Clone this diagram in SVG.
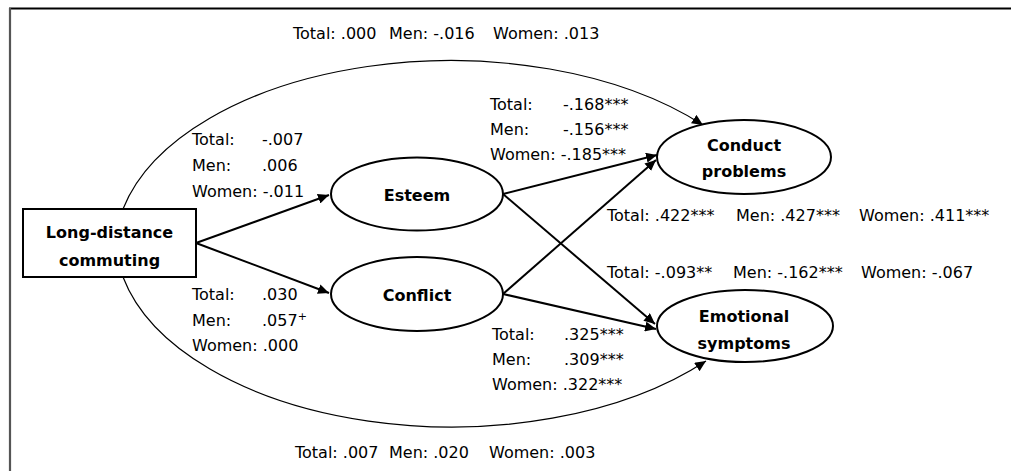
<svg xmlns="http://www.w3.org/2000/svg" width="1011" height="471" viewBox="0 0 1011 471">
<style>
.node{fill:#fff;stroke:#000;stroke-width:2}
.nt{font-family:"DejaVu Sans","Liberation Sans",sans-serif;font-weight:bold;font-size:16px;fill:#000;text-anchor:middle}
.lb{font-family:"DejaVu Sans","Liberation Sans",sans-serif;font-size:16px;fill:#000}
.ed{fill:none;stroke:#000;stroke-width:2}
.arc{fill:none;stroke:#000;stroke-width:1.2}
</style>
<defs>
<marker id="ah" markerUnits="userSpaceOnUse" markerWidth="12" markerHeight="10" refX="11" refY="5" orient="auto">
<path d="M0,0 L11,5 L0,10 z" fill="#000"/>
</marker>
</defs>
<rect width="1011" height="471" fill="#fff"/>
<g id="frame">
<line x1="9" y1="8.5" x2="1011" y2="8.5" stroke="#000" stroke-width="2"/>
<line x1="10" y1="8" x2="10" y2="471" stroke="#555" stroke-width="2.2"/>
</g>
<g id="connectors">
<path class="arc" d="M123,209 A336,190 0 0 1 703,125" marker-end="url(#ah)"/>
<path class="arc" d="M123,277 A336,190 0 0 0 706,361" marker-end="url(#ah)"/>
<line class="ed" x1="196" y1="243" x2="329" y2="195" marker-end="url(#ah)"/>
<line class="ed" x1="196" y1="243" x2="329" y2="293" marker-end="url(#ah)"/>
<line class="ed" x1="503" y1="194" x2="657" y2="155" marker-end="url(#ah)"/>
<line class="ed" x1="503" y1="194" x2="655" y2="324" marker-end="url(#ah)"/>
<line class="ed" x1="503" y1="294" x2="656" y2="160" marker-end="url(#ah)"/>
<line class="ed" x1="503" y1="294" x2="656" y2="329" marker-end="url(#ah)"/>
</g>
<g id="long-distance">
<rect class="node" x="23" y="209" width="173" height="68"/>
<text class="nt" x="109.5" y="238">Long-distance</text>
<text class="nt" x="109.5" y="266">commuting</text>
</g>
<g id="esteem">
<ellipse class="node" cx="417" cy="194" rx="86" ry="36.5"/>
<text class="nt" x="417" y="201">Esteem</text>
</g>
<g id="conflict">
<ellipse class="node" cx="417" cy="294" rx="86" ry="37"/>
<text class="nt" x="417" y="301">Conflict</text>
</g>
<g id="conduct">
<ellipse class="node" cx="744" cy="157" rx="87" ry="37"/>
<text class="nt" x="744" y="151">Conduct</text>
<text class="nt" x="744" y="177">problems</text>
</g>
<g id="emotional">
<ellipse class="node" cx="745" cy="326" rx="88" ry="36"/>
<text class="nt" x="744" y="322">Emotional</text>
<text class="nt" x="744" y="349">symptoms</text>
</g>
<g id="labels">
<text class="lb" y="39"><tspan x="293">Total: .000</tspan><tspan x="389">Men: -.016</tspan><tspan x="493">Women: .013</tspan></text>
<text class="lb" y="458"><tspan x="295">Total: .007</tspan><tspan x="389">Men: .020</tspan><tspan x="489">Women: .003</tspan></text>
<text class="lb" y="145"><tspan x="192">Total:</tspan><tspan x="262">-.007</tspan></text>
<text class="lb" y="171"><tspan x="192">Men:</tspan><tspan x="262">.006</tspan></text>
<text class="lb" x="192" y="197">Women: -.011</text>
<text class="lb" y="300"><tspan x="192">Total:</tspan><tspan x="262">.030</tspan></text>
<text class="lb" y="326"><tspan x="192">Men:</tspan><tspan x="262">.057</tspan><tspan font-size="11" dy="-6">+</tspan></text>
<text class="lb" x="192" y="351">Women: .000</text>
<text class="lb" y="110"><tspan x="490">Total:</tspan><tspan x="563">-.168***</tspan></text>
<text class="lb" y="135"><tspan x="490">Men:</tspan><tspan x="563">-.156***</tspan></text>
<text class="lb" x="490" y="160">Women: -.185***</text>
<text class="lb" y="340"><tspan x="492">Total:</tspan><tspan x="564">.325***</tspan></text>
<text class="lb" y="365"><tspan x="492">Men:</tspan><tspan x="564">.309***</tspan></text>
<text class="lb" x="492" y="390">Women: .322***</text>
<text class="lb" y="221"><tspan x="607">Total: .422***</tspan><tspan x="736">Men: .427***</tspan><tspan x="859">Women: .411***</tspan></text>
<text class="lb" y="278"><tspan x="607">Total: -.093**</tspan><tspan x="733">Men: -.162***</tspan><tspan x="861">Women: -.067</tspan></text>
</g>
</svg>
